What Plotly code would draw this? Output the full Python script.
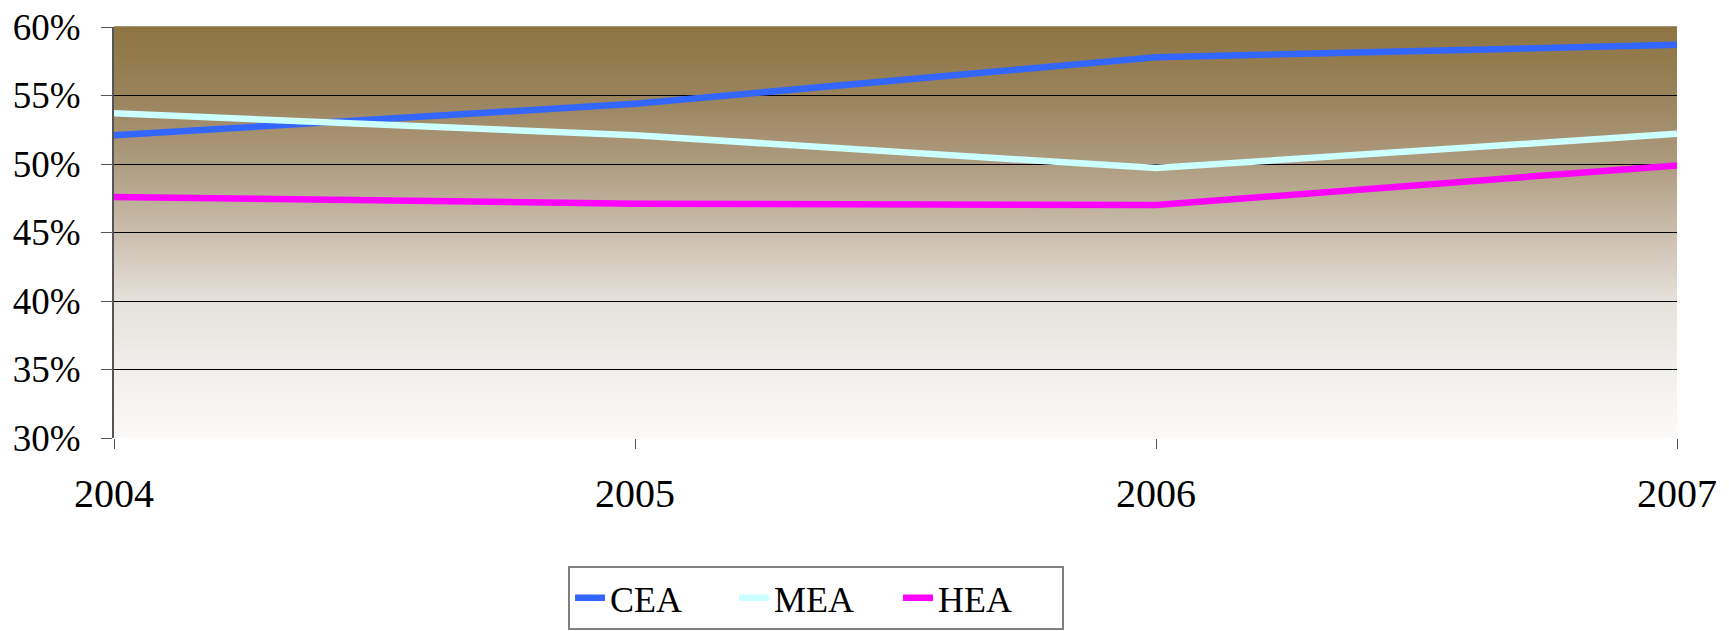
import plotly.graph_objects as go

years = [2004, 2005, 2006, 2007]
year_labels = ["2004", "2005", "2006", "2007"]
cea = [0.521, 0.544, 0.578, 0.587]
mea = [0.537, 0.521, 0.497, 0.522]
hea = [0.476, 0.471, 0.470, 0.499]

# background gradient stops (fraction from bottom, rgb)
bg_stops = [
    (0.0, (251, 250, 249)),
    (1 / 6, (241, 239, 236)),
    (1 / 3, (229, 225, 219)),
    (0.5, (202, 190, 172)),
    (2 / 3, (174, 156, 128)),
    (5 / 6, (154, 131, 92)),
    (1.0, (142, 116, 66)),
]


def grad_color(t):
    for (t0, c0), (t1, c1) in zip(bg_stops[:-1], bg_stops[1:]):
        if t0 <= t <= t1:
            f = (t - t0) / (t1 - t0)
            c = [round(a + (b - a) * f) for a, b in zip(c0, c1)]
            return f"rgb({c[0]},{c[1]},{c[2]})"
    return "rgb(142,116,66)"


fig = go.Figure()

fig.add_trace(go.Scatter(
    x=years, y=cea, name="CEA", mode="lines",
    line=dict(color="#3366FF", width=6.5)
))
fig.add_trace(go.Scatter(
    x=years, y=mea, name="MEA", mode="lines",
    line=dict(color="#CCFFFF", width=6.5)
))
fig.add_trace(go.Scatter(
    x=years, y=hea, name="HEA", mode="lines",
    line=dict(color="#FF00FF", width=6.5)
))

# gradient plot background as thin strips
n = 137
shapes = []
for i in range(n):
    shapes.append(dict(
        type="rect", xref="x domain", yref="y domain",
        x0=0, x1=1, y0=i / n, y1=(i + 1) / n + 0.002,
        fillcolor=grad_color((i + 0.5) / n),
        line=dict(width=0), layer="below"
    ))

fig.update_layout(
    width=1729,
    height=631,
    margin=dict(l=114, r=52, t=27, b=193, autoexpand=False),
    paper_bgcolor="white",
    plot_bgcolor="white",
    font=dict(family="Liberation Serif", size=37, color="black"),
    shapes=shapes,
    showlegend=True,
    legend=dict(
        orientation="h",
        x=0.2905, xanchor="left",
        y=-0.311, yanchor="top",
        bordercolor="#808080", borderwidth=2,
        bgcolor="white",
        font=dict(size=36),
        entrywidth=119,
    ),
    xaxis=dict(
        range=[2004, 2007],
        tickvals=years,
        ticktext=year_labels,
        tickfont=dict(size=40),
        ticks="outside", ticklen=10, tickcolor="#555",
        showgrid=False,
        showline=False,
        zeroline=False,
        automargin=False,
        ticklabelstandoff=10,
        ticklabeloverflow="allow",
    ),
    yaxis=dict(
        range=[0.3, 0.6],
        dtick=0.05,
        tickformat=".0%",
        ticks="outside", ticklen=11, tickcolor="#555",
        showgrid=True, gridcolor="black", gridwidth=1,
        showline=True, linecolor="#555", linewidth=2,
        zeroline=False,
        automargin=False,
        ticklabelstandoff=13,
        ticklabeloverflow="allow",
    ),
)

# drop the default 8px body margin so the figure fills the window exactly
fig.write_html(
    "out.html",
    config={"displayModeBar": False},
    post_script="document.body.style.margin='0';",
)
